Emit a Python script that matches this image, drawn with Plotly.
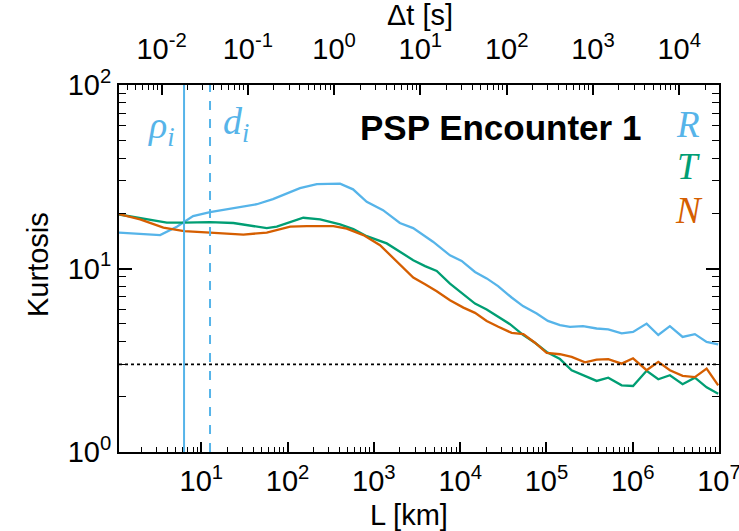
import math
import plotly.graph_objects as go

# ---------------- data ----------------
L_R = [1.11, 3.33, 5.20, 6.31, 8.02, 12.6, 23.3, 44.0, 67.6, 139,
       218, 405, 573, 826, 1276, 2000, 2850, 3430, 4840, 7620,
       10400, 14860, 20300, 27500, 39500, 53500, 77100, 104000, 143600, 187500,
       265500, 382000, 521000, 745000, 1.01e6, 1.45e6, 1.98e6, 2.70e6, 3.79e6, 5.26e6,
       7.19e6, 9.8e6]
K_R = [15.7, 15.2, 16.9, 17.9, 19.3, 20.3, 21.4, 22.4, 23.9, 27.4,
       28.8, 29.0, 27.0, 23.1, 20.8, 17.7, 16.6, 15.6, 14.0, 11.8,
       11.0, 9.57, 8.83, 8.02, 6.95, 6.24, 5.69, 5.18, 4.91, 4.81,
       4.85, 4.71, 4.66, 4.43, 4.51, 5.01, 4.34, 4.85, 4.24, 4.39,
       3.98, 3.86]

L_T = [1.11, 2.13, 3.98, 6.31, 12.6, 23.5, 36.7, 57.3, 74.8, 107,
       152, 238, 405, 578, 826, 1409, 2010, 2860, 3920, 5350,
       7620, 10900, 14860, 20300, 27700, 37800, 54000, 73600, 100700, 143600,
       196000, 280000, 382000, 521000, 745000, 1.01e6, 1.45e6, 1.98e6, 2.70e6, 3.79e6,
       5.26e6, 7.19e6, 9.8e6]
K_T = [19.7, 18.7, 17.8, 17.8, 17.9, 17.7, 17.2, 16.6, 16.9, 17.9,
       18.9, 18.5, 17.4, 16.4, 15.0, 13.7, 12.3, 11.1, 10.3, 9.70,
       8.28, 7.24, 6.44, 5.98, 5.45, 4.97, 4.34, 3.94, 3.51, 3.21,
       2.79, 2.59, 2.44, 2.54, 2.31, 2.29, 2.77, 2.49, 2.62, 2.34,
       2.54, 2.25, 2.08]

L_N = [1.11, 1.95, 3.63, 6.31, 12.6, 30.7, 57.3, 107, 167, 339,
       484, 755, 1178, 2010, 2860, 3920, 5350, 7620, 10900, 14860,
       20300, 27700, 39500, 54000, 73600, 100700, 143600, 196000, 280000, 382000,
       521000, 745000, 1.01e6, 1.45e6, 1.98e6, 2.70e6, 3.79e6, 5.26e6, 7.19e6, 9.8e6]
K_N = [19.8, 18.5, 16.7, 16.0, 15.7, 15.3, 15.7, 16.9, 17.0, 17.0,
       16.5, 15.2, 13.4, 10.5, 8.93, 8.20, 7.52, 6.71, 6.12, 5.73,
       5.18, 4.81, 4.46, 4.39, 3.94, 3.47, 3.41, 3.30, 3.08, 3.19,
       3.21, 3.03, 3.24, 2.79, 3.10, 2.79, 2.60, 2.56, 2.85, 2.31]

RHO_I = 6.3        # km, ion gyroradius
D_I = 12.6         # km, ion inertial length
V_SW = 346.0       # km/s, used to convert L to time lag
K_GAUSS = 3.0      # Gaussian kurtosis reference

X_EXPS = [1, 2, 3, 4, 5, 6, 7]
DT_EXPS = [-2, -1, 0, 1, 2, 3, 4]
Y_EXPS = [0, 1, 2]

L_MIN, L_MAX = 1.11, 1.0e7

# ---------------- styling ----------------
C_R, C_T, C_N = "#56B4E9", "#009E73", "#D55E00"
SANS = "Liberation Sans, Arial, Helvetica, sans-serif"
SERIF = "Liberation Serif, DejaVu Serif, serif"
FS = 29

W, H = 739, 531
ML, MR, MT, MB = 119, 20, 85, 79
PW, PH = W - ML - MR, H - MT - MB


def px(x):
    return (x - ML) / PW


def py(y):
    return (H - MB - y) / PH


def minors(lo, hi):
    return [m * 10.0 ** k for k in range(lo, hi) for m in range(2, 10)]


fig = go.Figure()
for L, K, c in [(L_R, K_R, C_R), (L_T, K_T, C_T), (L_N, K_N, C_N)]:
    fig.add_trace(go.Scatter(x=L, y=K, mode="lines", line=dict(color=c, width=2.3),
                             showlegend=False, hoverinfo="skip"))

# invisible trace to activate the top (time-lag) axis
fig.add_trace(go.Scatter(x=[l / V_SW for l in L_R], y=K_R, xaxis="x2", yaxis="y",
                         mode="lines", opacity=0, line=dict(width=0),
                         showlegend=False, hoverinfo="skip"))

common = dict(type="log", showgrid=False, zeroline=False, showline=True,
              linecolor="black", linewidth=2, ticks="inside", tickcolor="black",
              tickwidth=1.5, automargin=False,
              tickfont=dict(family=SANS, size=FS, color="black"))

xr = [math.log10(L_MIN), math.log10(L_MAX) + 0.0005]

fig.update_layout(
    width=W, height=H, autosize=False,
    margin=dict(l=ML, r=MR, t=MT, b=MB, pad=0, autoexpand=False),
    paper_bgcolor="white", plot_bgcolor="white",
    showlegend=False,
    xaxis=dict(**common, range=xr, ticklabeloverflow="allow",
               tickvals=[10.0 ** e for e in X_EXPS],
               ticktext=[f"10<sup>{e}</sup>" for e in X_EXPS],
               ticklen=10, mirror=False, ticklabelstandoff=2,
               minor=dict(tickvals=minors(0, 7), ticks="inside", ticklen=5,
                          tickwidth=1.2, tickcolor="black", showgrid=False)),
    xaxis2=dict(**common, overlaying="x", side="top", anchor="y",
                range=[xr[0] - math.log10(V_SW), xr[1] - math.log10(V_SW)],
                tickvals=[10.0 ** e for e in DT_EXPS],
                ticktext=[f"10<sup>{e}</sup>" for e in DT_EXPS],
                ticklen=10, ticklabelstandoff=12,
                minor=dict(tickvals=minors(-3, 5), ticks="inside", ticklen=5,
                           tickwidth=1.2, tickcolor="black", showgrid=False)),
    yaxis=dict(**common, range=[0, 2], mirror="ticks",
               tickvals=[10.0 ** e for e in Y_EXPS],
               ticktext=[f"10<sup>{e}</sup>" for e in Y_EXPS],
               ticklen=13,
               minor=dict(tickvals=minors(0, 2), ticks="inside", ticklen=7,
                          tickwidth=1.2, tickcolor="black", showgrid=False)),
)

# reference lines
fig.add_shape(type="line", xref="x", yref="paper", x0=RHO_I, x1=RHO_I, y0=0, y1=1,
              line=dict(color=C_R, width=2))
fig.add_shape(type="line", xref="x", yref="paper", x0=D_I, x1=D_I, y0=0, y1=1,
              line=dict(color=C_R, width=2, dash="dash"))
fig.add_shape(type="line", xref="paper", yref="y", x0=0, x1=1, y0=K_GAUSS, y1=K_GAUSS,
              line=dict(color="black", width=1.8, dash="dot"))

ann = [
    dict(text="<i>ρ<sub>i</sub></i>", x=px(161), y=py(128), font=dict(family=SERIF, size=38, color=C_R)),
    dict(text="<i>d<sub>i</sub></i>", x=px(236), y=py(124), font=dict(family=SERIF, size=38, color=C_R)),
    dict(text="<b>PSP Encounter 1</b>", x=px(500), y=py(128), font=dict(family=SANS, size=35, color="black")),
    dict(text="<i>R</i>", x=px(688), y=py(124), font=dict(family=SERIF, size=37, color=C_R)),
    dict(text="<i>T</i>", x=px(688), y=py(166), font=dict(family=SERIF, size=37, color=C_T)),
    dict(text="<i>N</i>", x=px(689), y=py(210), font=dict(family=SERIF, size=37, color=C_N)),
    dict(text="Kurtosis", x=px(38), y=py(265), textangle=-90, font=dict(family=SANS, size=FS, color="black")),
    dict(text="L [km]", x=px(409), y=py(515), font=dict(family=SANS, size=FS, color="black")),
    dict(text="Δt [s]", x=px(420), y=py(15), font=dict(family=SANS, size=FS, color="black")),
]
for a in ann:
    fig.add_annotation(xref="paper", yref="paper", showarrow=False,
                       xanchor="center", yanchor="middle", **a)

fig.write_html("out.html", config={"displayModeBar": False},
               post_script="document.body.style.margin='0';document.body.style.overflow='hidden';")
